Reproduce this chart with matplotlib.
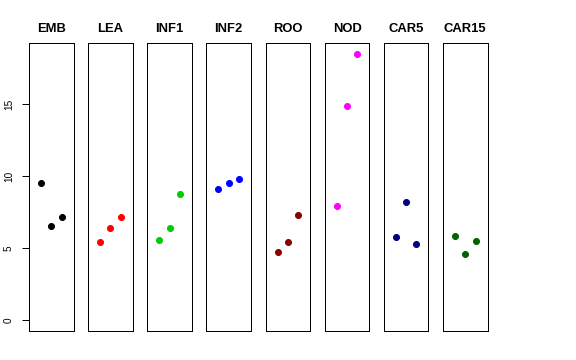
import matplotlib
matplotlib.use("Agg")
import matplotlib.pyplot as plt

plt.rcParams["font.family"] = ["Liberation Sans", "DejaVu Sans"]

tissues = ["EMB", "LEA", "INF1", "INF2", "ROO", "NOD", "CAR5", "CAR15"]
colors = ["black", "red", "#00CD00", "blue", "#8B0000", "magenta", "#000080", "#006400"]
replicate = [1, 2, 3]

emb = [9.55, 6.56, 7.19]
lea = [5.43, 6.38, 7.19]
inf1 = [5.59, 6.42, 8.77]
inf2 = [9.12, 9.55, 9.83]
roo = [4.75, 5.43, 7.35]
nod = [7.91, 14.89, 18.5]
car5 = [5.80, 8.23, 5.31]
car15 = [5.85, 4.64, 5.52]
values = [emb, lea, inf1, inf2, roo, nod, car5, car15]

yticks = [0, 5, 10, 15]

W, H = 576, 360
fig = plt.figure(figsize=(W / 72, H / 72), dpi=72)

ymax = max(max(v) for v in values)
ylim = (0 - 0.04 * ymax, ymax + 0.04 * ymax)
xlim = (0 - 0.04 * 4, 4 + 0.04 * 4)

left0, step, pw = 29, 59.15, 44.5
top, bottom = 43.3, 331

for i, (name, col, vals) in enumerate(zip(tissues, colors, values)):
    x0 = left0 + i * step
    ax = fig.add_axes([x0 / W, (H - bottom) / H, pw / W, (bottom - top) / H])
    ax.plot(replicate, vals, "o", color=col, ms=6, mec=col)
    ax.set_xlim(*xlim)
    ax.set_ylim(*ylim)
    ax.set_xticks([])
    for s in ax.spines.values():
        s.set_linewidth(1.0)
    ax.set_title(name, fontsize=13, fontweight="bold", pad=11)
    if i == 0:
        ax.set_yticks(yticks)
        ax.tick_params(axis="y", length=7, width=1, labelsize=10, pad=8)
        for lab in ax.get_yticklabels():
            lab.set_rotation(90)
            lab.set_va("center")
    else:
        ax.set_yticks([])

fig.savefig("out.png", dpi=72)
